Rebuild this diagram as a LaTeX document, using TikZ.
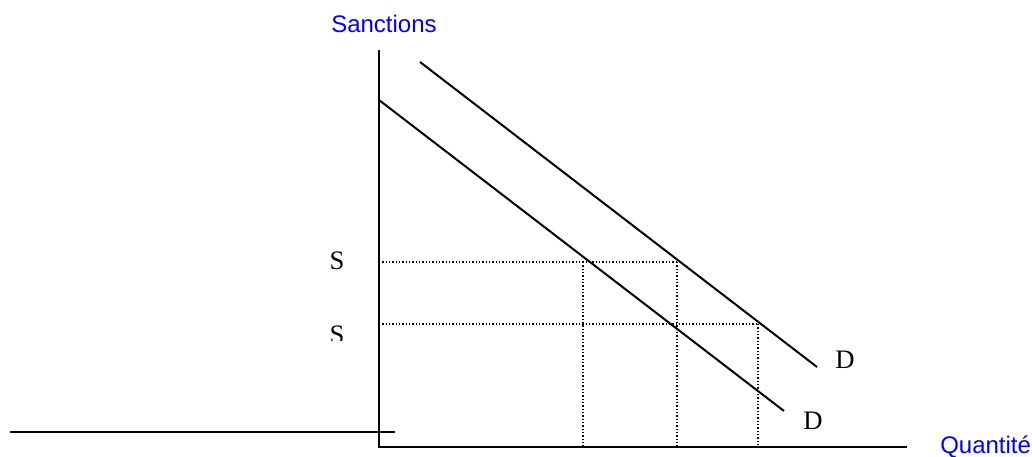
\documentclass[tikz,border=0pt]{standalone}
\usepackage{fontspec}
\setmainfont{Liberation Serif}
\newfontfamily\axisfont{Liberation Sans}
\usetikzlibrary{positioning}
\definecolor{AxisBlue}{HTML}{0000FF}
\tikzset{axis/.style={line width=1.5pt},demand/.style={line width=1.5pt},guide/.style={line width=0.9pt,dash pattern=on 0.9pt off 1.6pt},axlabel/.style={font=\axisfont\fontsize{18}{21}\selectfont,text=AxisBlue,inner sep=0pt},curvelabel/.style={font=\fontsize{20}{23}\selectfont,inner sep=0pt}}

\begin{document}
\begin{tikzpicture}[x=0.75pt,y=-0.75pt]
\useasboundingbox (0,0) rectangle (1032,457);

% axes
\coordinate (o) at (379,447);
\coordinate (ytop) at (379,50);
\coordinate (xend) at (907,447);
\draw[axis] (ytop) -- (o) -- (xend);
\node[axlabel] (sanc) at (384,24) {Sanctions};
\node[axlabel, anchor=west] (quant) at (940,447) {Quantité};

% stray line on the left
\coordinate (l1) at (10,432);
\coordinate (l2) at (395,432);
\draw[axis] (l1) -- (l2);

% demand curves
\coordinate (da1) at (379,100);
\coordinate (da2) at (784,411);
\coordinate (db1) at (420,62);
\coordinate (db2) at (817,367);
\draw[demand] (da1) -- (da2);
\draw[demand] (db1) -- (db2);
\node[curvelabel] (dlow) at (813,421) {D};
\node[curvelabel] (dhigh) at (845,360) {D};

% sanction levels
\coordinate (s1) at (379,262);
\coordinate (s2) at (379,324);
\coordinate (q1) at (583,262);
\coordinate (q2) at (677,262);
\coordinate (q3) at (758,324);
\draw[guide] (s1) -- (q2);
\draw[guide] (s2) -- (q3);
\draw[guide] (q1) -- (q1 |- o);
\draw[guide] (q2) -- (q2 |- o);
\draw[guide] (q3) -- (q3 |- o);
\node[curvelabel] (shigh) at (337,261) {S};
\begin{scope}
\clip (300,300) rectangle (370,340);
\node[curvelabel] (slow) at (337,335) {S};
\end{scope}
\end{tikzpicture}
\end{document}
